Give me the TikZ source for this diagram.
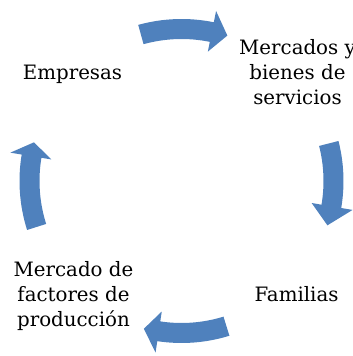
\documentclass[tikz,border=0pt]{standalone}
\usepackage{fontspec}
\setmainfont{DejaVu Serif}
\usetikzlibrary{calc}
\definecolor{cycblue}{HTML}{4F81BD}
\tikzset{
  label text/.style={inner sep=0pt, align=center, anchor=center,
    font=\fontsize{19.8}{25}\selectfont},
  arrowfill/.style={fill=cycblue, draw=none}
}
\newcommand{\cycarrow}[3]{%
  \fill[arrowfill] ([shift={(C)}]#1:162) arc[start angle=#1, end angle=#2, radius=162]
    -- ([shift={(C)}]#2:173.5) -- ([shift={(C)}]#3:152.5) -- ([shift={(C)}]#2:132)
    -- ([shift={(C)}]#2:142) arc[start angle=#2, end angle=#1, radius=142] -- cycle;}
\begin{document}
\begin{tikzpicture}[x=1pt,y=1pt]
\useasboundingbox (0,0) rectangle (353,356);
\coordinate (C) at (181.5,175);
\node[label text] (emp) at (72.5,281) {\strut Empresas};
\node[label text] (mer) at (297.5,281) {\strut Mercados y\\\strut bienes de\\\strut servicios};
\node[label text] (fam) at (296.5,59) {\strut Familias};
\node[label text] (fac) at (73.5,59) {\strut Mercado de\\\strut factores de\\\strut producción};
\cycarrow{105.5}{78.5}{72.5}
\cycarrow{14.3}{-9.6}{-16.9}
\cycarrow{-72.8}{-98.6}{-104.3}
\cycarrow{197.6}{170.6}{165.3}
\end{tikzpicture}
\end{document}
